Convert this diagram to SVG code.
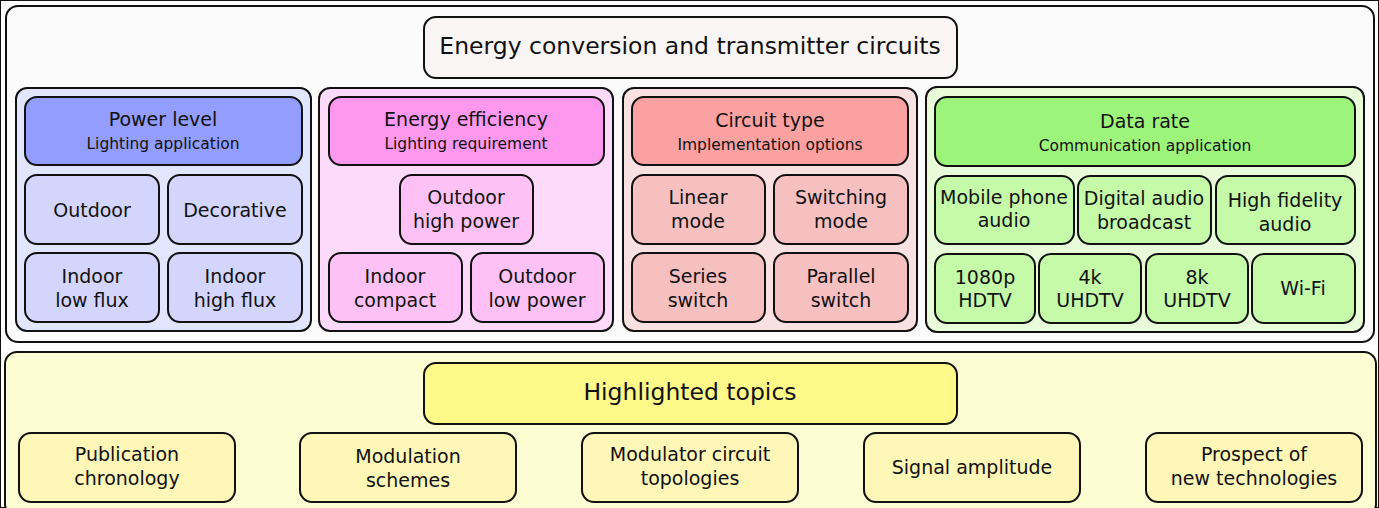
<svg xmlns="http://www.w3.org/2000/svg" width="1379" height="508" viewBox="0 0 1379 508">
<style>
text{font-family:"DejaVu Sans","Liberation Sans",sans-serif;fill:#111;text-anchor:middle;dominant-baseline:central}
rect{stroke:#111;stroke-width:2}
.big{font-size:23.5px}
.h{font-size:19px}
.s{font-size:15.5px}
.t{font-size:19px}
</style>
<rect width="1379" height="508" fill="#ffffff" stroke="none"/>
<g id="top-section">
<rect x="6" y="6" width="1368" height="336" rx="12" fill="#fbfbfb" stroke-width="1.5"/>
</g>
<g id="title">
<rect x="424" y="17" width="533" height="61" rx="12" fill="#f9f5f4"/>
<text class="big" x="690" y="46">Energy conversion and transmitter circuits</text>
</g>
<g id="col-power">
<rect x="16" y="88" width="295" height="243" rx="11" fill="#e1e5fd" stroke-width="1.5"/>
<rect x="25" y="97" width="277" height="68" rx="12" fill="#929dfd"/>
<text class="h" x="163" y="119">Power level</text>
<text class="s" x="163" y="144">Lighting application</text>
</g>
<g id="n-outdoor"><rect x="25" y="175" width="134" height="69" rx="12" fill="#d3d5fd"/><text class="t" x="92" y="210">Outdoor</text></g>
<g id="n-decorative"><rect x="168" y="175" width="134" height="69" rx="12" fill="#d3d5fd"/><text class="t" x="235" y="210">Decorative</text></g>
<g id="n-indoor-low"><rect x="25" y="253" width="134" height="69" rx="12" fill="#d3d5fd"/><text class="t" x="92" y="276">Indoor</text><text class="t" x="92" y="300">low flux</text></g>
<g id="n-indoor-high"><rect x="168" y="253" width="134" height="69" rx="12" fill="#d3d5fd"/><text class="t" x="235" y="276">Indoor</text><text class="t" x="235" y="300">high flux</text></g>

<g id="col-efficiency">
<rect x="319" y="88" width="294" height="243" rx="11" fill="#fedafa" stroke-width="1.5"/>
<rect x="329" y="97" width="275" height="68" rx="12" fill="#fe98ef"/>
<text class="h" x="466" y="119">Energy efficiency</text>
<text class="s" x="466" y="144">Lighting requirement</text>
</g>
<g id="n-outdoor-high"><rect x="400" y="175" width="133" height="69" rx="12" fill="#fec1f6"/><text class="t" x="466" y="197">Outdoor</text><text class="t" x="466" y="221">high power</text></g>
<g id="n-indoor-compact"><rect x="329" y="253" width="133" height="69" rx="12" fill="#fec1f6"/><text class="t" x="395" y="276">Indoor</text><text class="t" x="395" y="300">compact</text></g>
<g id="n-outdoor-low"><rect x="471" y="253" width="133" height="69" rx="12" fill="#fec1f6"/><text class="t" x="537" y="276">Outdoor</text><text class="t" x="537" y="300">low power</text></g>

<g id="col-circuit">
<rect x="623" y="88" width="294" height="243" rx="11" fill="#f9e1e1" stroke-width="1.5"/>
<rect x="632" y="97" width="276" height="68" rx="12" fill="#fca1a2"/>
<text class="h" x="770" y="120">Circuit type</text>
<text class="s" x="770" y="145">Implementation options</text>
</g>
<g id="n-linear"><rect x="632" y="175" width="133" height="69" rx="12" fill="#f6c0c1"/><text class="t" x="698" y="197">Linear</text><text class="t" x="698" y="221">mode</text></g>
<g id="n-switching"><rect x="774" y="175" width="134" height="69" rx="12" fill="#f6c0c1"/><text class="t" x="841" y="197">Switching</text><text class="t" x="841" y="221">mode</text></g>
<g id="n-series"><rect x="632" y="253" width="133" height="69" rx="12" fill="#f6c0c1"/><text class="t" x="698" y="276">Series</text><text class="t" x="698" y="300">switch</text></g>
<g id="n-parallel"><rect x="774" y="253" width="134" height="69" rx="12" fill="#f6c0c1"/><text class="t" x="841" y="276">Parallel</text><text class="t" x="841" y="300">switch</text></g>

<g id="col-data">
<rect x="926" y="87" width="438" height="245" rx="11" fill="#e9fcd9" stroke-width="1.5"/>
<rect x="935" y="97" width="420" height="69" rx="12" fill="#9df47b"/>
<text class="h" x="1145" y="121">Data rate</text>
<text class="s" x="1145" y="146">Communication application</text>
</g>
<g id="n-mobile"><rect x="935" y="176" width="139" height="68" rx="12" fill="#c5faa9"/><text class="t" x="1004" y="197">Mobile phone</text><text class="t" x="1004" y="220">audio</text></g>
<g id="n-dab"><rect x="1078" y="176" width="133" height="68" rx="12" fill="#c5faa9"/><text class="t" x="1144" y="198">Digital audio</text><text class="t" x="1144" y="222">broadcast</text></g>
<g id="n-hifi"><rect x="1216" y="176" width="139" height="68" rx="12" fill="#c5faa9"/><text class="t" x="1285" y="200">High fidelity</text><text class="t" x="1285" y="224">audio</text></g>
<g id="n-1080p"><rect x="935" y="254" width="100" height="69" rx="12" fill="#c5faa9"/><text class="t" x="985" y="277">1080p</text><text class="t" x="985" y="300">HDTV</text></g>
<g id="n-4k"><rect x="1039" y="254" width="102" height="69" rx="12" fill="#c5faa9"/><text class="t" x="1090" y="277">4k</text><text class="t" x="1090" y="300">UHDTV</text></g>
<g id="n-8k"><rect x="1146" y="254" width="102" height="69" rx="12" fill="#c5faa9"/><text class="t" x="1197" y="277">8k</text><text class="t" x="1197" y="300">UHDTV</text></g>
<g id="n-wifi"><rect x="1252" y="254" width="103" height="69" rx="12" fill="#c5faa9"/><text class="t" x="1303" y="288">Wi-Fi</text></g>

<g id="bottom-section">
<rect x="5" y="352" width="1371" height="164" rx="12" fill="#fdfdd3" stroke-width="1.5"/>
</g>
<g id="highlighted">
<rect x="424" y="363" width="533" height="61" rx="12" fill="#fef989"/>
<text class="big" x="690" y="392">Highlighted topics</text>
</g>
<g id="n-publication"><rect x="19" y="433" width="216" height="69" rx="12" fill="#fef7b7"/><text class="t" x="127" y="454">Publication</text><text class="t" x="127" y="478">chronology</text></g>
<g id="n-modulation"><rect x="300" y="433" width="216" height="69" rx="12" fill="#fef7b7"/><text class="t" x="408" y="456">Modulation</text><text class="t" x="408" y="480">schemes</text></g>
<g id="n-modulator"><rect x="582" y="433" width="216" height="69" rx="12" fill="#fef7b7"/><text class="t" x="690" y="454">Modulator circuit</text><text class="t" x="690" y="478">topologies</text></g>
<g id="n-signal"><rect x="864" y="433" width="216" height="69" rx="12" fill="#fef7b7"/><text class="t" x="972" y="467">Signal amplitude</text></g>
<g id="n-prospect"><rect x="1146" y="433" width="216" height="69" rx="12" fill="#fef7b7"/><text class="t" x="1254" y="454">Prospect of</text><text class="t" x="1254" y="478">new technologies</text></g>
<g id="connectors"></g>
</svg>
